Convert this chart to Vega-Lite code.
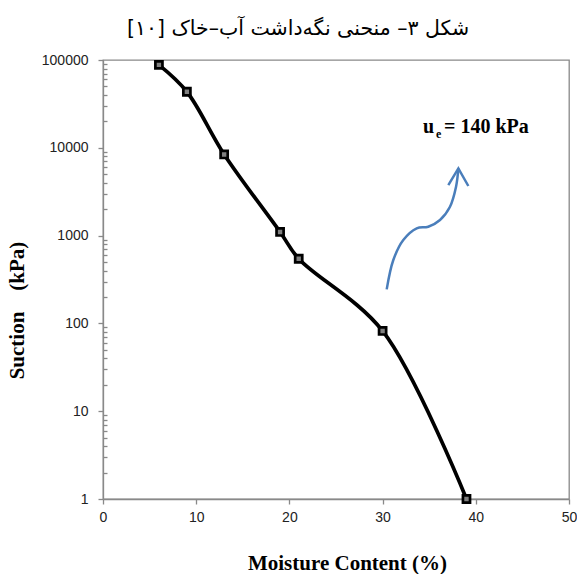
{
  "$schema": "https://vega.github.io/schema/vega-lite/v6.json",
  "width": 466,
  "height": 439,
  "autosize": "none",
  "padding": {"left": 103, "top": 60, "right": 8, "bottom": 75},
  "background": "white",
  "config": {
    "view": {"stroke": "#898989", "strokeWidth": 1.3},
    "axis": {"grid": false, "domainColor": "#898989", "domainWidth": 1.3, "tickColor": "#898989", "tickWidth": 1.3}
  },
  "title": {
    "text": "شکل ۳– منحنی نگه\u200cداشت آب–خاک [۱۰]\u200f",
    "font": "DejaVu Sans",
    "fontSize": 20.5,
    "fontWeight": "normal",
    "color": "#000000",
    "anchor": "middle",
    "frame": "group",
    "dx": -38,
    "offset": 4,
    "baseline": "middle"
  },
  "datasets": {
    "curve": [
      {"x": 6, "y": 88000},
      {"x": 9, "y": 43500},
      {"x": 13, "y": 8400},
      {"x": 19, "y": 1100},
      {"x": 21, "y": 545},
      {"x": 30, "y": 82},
      {"x": 39, "y": 1}
    ],
    "arrow": [
      {"o": 1, "x": 30.44, "y": 244},
      {"o": 2, "x": 31.15, "y": 527},
      {"o": 3, "x": 32.22, "y": 891},
      {"o": 4, "x": 33.66, "y": 1211},
      {"o": 5, "x": 34.9, "y": 1262},
      {"o": 6, "x": 36.16, "y": 1506},
      {"o": 7, "x": 37.23, "y": 2134},
      {"o": 8, "x": 37.88, "y": 3606},
      {"o": 9, "x": 38.13, "y": 5833}
    ],
    "head": [
      {"o": 1, "x": 37.05, "y": 3767},
      {"o": 2, "x": 38.13, "y": 5833},
      {"o": 3, "x": 39.2, "y": 3673}
    ],
    "big": [
      {"x": 34.33, "y": 14760, "t": "u"},
      {"x": 36.59, "y": 14760, "t": "= 140 kPa"}
    ],
    "small": [
      {"x": 35.73, "y": 12950, "t": "e"}
    ]
  },
  "encoding": {
    "x": {
      "field": "x",
      "type": "quantitative",
      "scale": {"domain": [0, 50], "nice": false, "zero": false},
      "axis": {
        "values": [0, 10, 20, 30, 40, 50],
        "format": "d",
        "tickSize": 5,
        "labelFlush": false,
        "labelOverlap": false,
        "labelFont": "Liberation Sans",
        "labelFontSize": 14,
        "labelColor": "#222222",
        "labelPadding": 6,
        "title": "Moisture Content (%)",
        "titleFont": "Liberation Serif",
        "titleFontWeight": "bold",
        "titleFontSize": 21,
        "titleColor": "#000000",
        "titleX": 244,
        "titleY": 64,
        "titleAlign": "center",
        "titleBaseline": "middle"
      }
    },
    "y": {
      "field": "y",
      "type": "quantitative",
      "scale": {"type": "log", "domain": [1, 100000], "nice": false},
      "axis": {
        "values": [1, 2, 3, 4, 5, 6, 7, 8, 9, 10, 20, 30, 40, 50, 60, 70, 80, 90, 100, 200, 300, 400, 500, 600, 700, 800, 900, 1000, 2000, 3000, 4000, 5000, 6000, 7000, 8000, 9000, 10000, 20000, 30000, 40000, 50000, 60000, 70000, 80000, 90000, 100000],
        "format": "d",
        "labelExpr": "indexof([1,10,100,1000,10000,100000], datum.value) >= 0 ? datum.label : ''",
        "tickSize": {"condition": {"test": "indexof([1,10,100,1000,10000,100000], datum.value) >= 0", "value": 5}, "value": -4},
        "labelOverlap": false,
        "labelFlush": false,
        "labelFont": "Liberation Sans",
        "labelFontSize": 14,
        "labelColor": "#222222",
        "labelPadding": 10,
        "title": "Suction\u00a0\u00a0\u00a0 (kPa)",
        "titleFont": "Liberation Serif",
        "titleFontWeight": "bold",
        "titleFontSize": 21,
        "titleColor": "#000000",
        "titleX": -86,
        "titleY": 250,
        "titleAlign": "center",
        "titleBaseline": "middle",
        "titleAngle": -90
      }
    }
  },
  "layer": [
    {
      "data": {"name": "curve"},
      "mark": {"type": "line", "interpolate": "catmull-rom", "color": "#000000", "strokeWidth": 3.7}
    },
    {
      "data": {"name": "curve"},
      "mark": {"type": "point", "shape": "square", "filled": true, "fill": "#808080", "stroke": "#000000", "strokeWidth": 2.7, "size": 50, "opacity": 1}
    },
    {
      "data": {"name": "arrow"},
      "mark": {"type": "line", "interpolate": "catmull-rom", "color": "#4a7ebb", "strokeWidth": 2.5},
      "encoding": {"order": {"field": "o", "type": "quantitative"}}
    },
    {
      "data": {"name": "head"},
      "mark": {"type": "line", "color": "#4a7ebb", "strokeWidth": 2.5, "strokeJoin": "miter"},
      "encoding": {"order": {"field": "o", "type": "quantitative"}}
    },
    {
      "data": {"name": "big"},
      "mark": {"type": "text", "align": "left", "baseline": "alphabetic", "font": "Liberation Serif", "fontWeight": "bold", "fontSize": 20, "color": "#000000"},
      "encoding": {"text": {"field": "t", "type": "nominal"}}
    },
    {
      "data": {"name": "small"},
      "mark": {"type": "text", "align": "left", "baseline": "alphabetic", "font": "Liberation Serif", "fontWeight": "bold", "fontSize": 12, "color": "#000000"},
      "encoding": {"text": {"field": "t", "type": "nominal"}}
    }
  ]
}
